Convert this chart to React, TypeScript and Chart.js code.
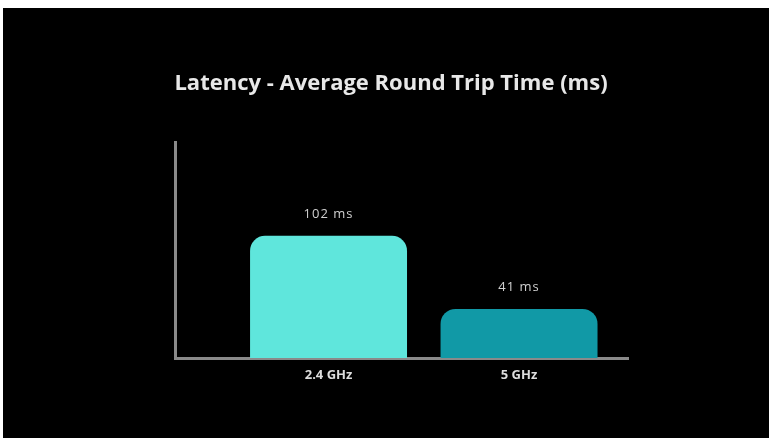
import React, { useEffect, useRef } from "react";
import { Chart, registerables } from "chart.js";

Chart.register(...registerables);

const categories = ["2.4 GHz", "5 GHz"];
const latencyMs = [102, 41];
const barColors = ["#5fe6dc", "#1199a6"];
const titleText = "Latency - Average Round Trip Time (ms)";
const yMax = 180;

const valueLabelPlugin = {
  id: "valueLabels",
  afterDatasetsDraw(chart: any) {
    const ctx = chart.ctx;
    const meta = chart.getDatasetMeta(0);
    ctx.save();
    ctx.fillStyle = "#d0d0d0";
    ctx.font = "13px 'Open Sans'";
    ctx.textAlign = "center";
    ctx.textBaseline = "middle";
    try { (ctx as any).letterSpacing = "1px"; } catch (e) {}
    meta.data.forEach((bar: any, i: number) => {
      ctx.fillText(`${latencyMs[i]} ms`, bar.x, bar.y - 22);
    });
    ctx.restore();
  },
};

export default function App() {
  const ref = useRef<HTMLCanvasElement>(null);
  useEffect(() => {
    if (!ref.current) return;
    const chart = new Chart(ref.current, {
      type: "bar",
      data: {
        datasets: [
          {
            data: latencyMs.map((v, i) => ({ x: i + 1, y: v })),
            backgroundColor: barColors,
            borderRadius: 15,
            borderSkipped: "start",
            barPercentage: 0.824,
            categoryPercentage: 1,
          },
        ],
      },
      options: {
        responsive: false,
        animation: false,
        layout: { padding: { left: 151, right: 141, top: 0, bottom: 0 } },
        plugins: {
          legend: { display: false },
          tooltip: { enabled: false },
          title: {
            display: true,
            text: titleText,
            color: "#e8e8e8",
            font: { family: "'Open Sans'", size: 22, weight: "bold" },
            padding: { top: 63, bottom: 45 },
          },
        },
        scales: {
          x: {
            type: "linear",
            min: 0.194,
            max: 2.572,
            offset: false,
            grid: { display: false, drawTicks: false },
            border: { display: true, color: "#8a8a8a", width: 3 },
            afterBuildTicks: (s: any) => {
              s.ticks = categories.map((_, i) => ({ value: i + 1 }));
            },
            afterFit: (s: any) => {
              s.height = 80;
            },
            ticks: {
              autoSkip: false,
              maxRotation: 0,
              padding: 9,
              color: "#dddddd",
              font: { family: "'Open Sans'", size: 13, weight: "bold" },
              callback: (v: any) => categories[Number(v) - 1] ?? "",
            },
          },
          y: {
            min: 0,
            max: yMax,
            grid: { display: false, drawTicks: false },
            border: { display: true, color: "#8a8a8a", width: 3 },
            ticks: { display: false },
            afterFit: (s: any) => {
              s.width = 21;
            },
          },
        },
      },
      plugins: [valueLabelPlugin],
    });
    return () => chart.destroy();
  }, []);

  return (
    <div
      style={{
        position: "absolute",
        left: 3,
        top: 8,
        width: 766,
        height: 430,
        background: "#000",
      }}
    >
      <canvas ref={ref} width={766} height={430} style={{ display: "block" }} />
    </div>
  );
}
